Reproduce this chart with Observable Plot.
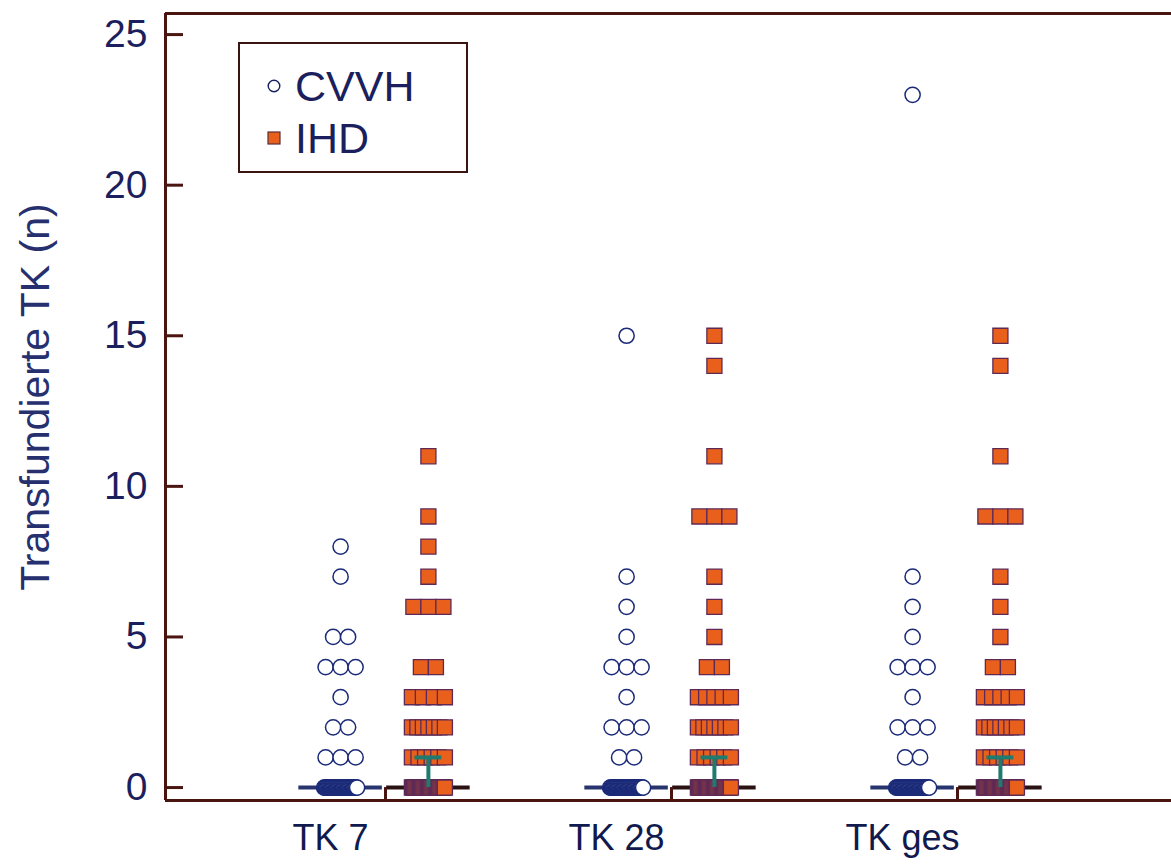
<!DOCTYPE html>
<html><head><meta charset="utf-8">
<script src="https://cdn.jsdelivr.net/npm/d3@7"></script>
<script src="https://cdn.jsdelivr.net/npm/@observablehq/plot@0.6"></script>
<style>
html,body{margin:0;padding:0;background:#fff;overflow:hidden}
#wrap{position:relative;width:1171px;height:868px;font-family:"Liberation Sans",Arial,sans-serif}
#legend{position:absolute;left:238px;top:42px;width:226px;height:127px;border:2px solid #3a1410;background:#fff}
.lrow{position:absolute;left:0;height:52px;display:flex;align-items:center}
.lrow svg{margin-left:26px;margin-right:13px}
.lrow span{font-size:43px;color:#1b1f5e;line-height:1}
</style></head><body>
<div id="wrap"><div id="chart"></div>
<div id="legend">
  <div class="lrow" style="top:16px"><svg width="16" height="16"><circle cx="8" cy="8" r="5.8" fill="#fff" stroke="#1b2260" stroke-width="1.4"/></svg><span>CVVH</span></div>
  <div class="lrow" style="top:68px"><svg width="16" height="16"><rect x="2" y="2" width="12" height="12" fill="#e8601c" stroke="#5a2d3a" stroke-width="1.2"/></svg><span>IHD</span></div>
</div>
</div>
<script>
// ---- data (value, count) ----
const categories = ["TK 7", "TK 28", "TK ges"];
const groups = ["CVVH", "IHD"];
const tk7CVVH  = [[0,40],[1,3],[2,2],[3,1],[4,3],[5,2],[7,1],[8,1]];
const tk7IHD   = [[0,30],[1,6],[2,7],[3,4],[4,2],[6,3],[7,1],[8,1],[9,1],[11,1]];
const tk28CVVH = [[0,40],[1,2],[2,3],[3,1],[4,3],[5,1],[6,1],[7,1],[15,1]];
const tk28IHD  = [[0,30],[1,6],[2,7],[3,5],[4,2],[5,1],[6,1],[7,1],[9,3],[11,1],[14,1],[15,1]];
const tkgesCVVH= [[0,40],[1,2],[2,3],[3,1],[4,3],[5,1],[6,1],[7,1],[23,1]];
const tkgesIHD = [[0,30],[1,6],[2,7],[3,5],[4,2],[5,1],[6,1],[7,1],[9,3],[11,1],[14,1],[15,1]];
const medians = {CVVH: [0,0,0], IHD: [0,0,0]};
const ihdErrTop = [1,1,1];
const yTicks = [0,5,10,15,20,25];
const yTitle = "Transfundierte TK (n)";

// ---- layout helpers ----
const pxPerUnit = 286;
const xDomain = [1 - 220/pxPerUnit, 1 + 786/pxPerUnit];
const yDomain = [-0.43, 25.7];
const groupOffset = {CVVH: -0.157, IHD: 0.150};
const series = [
  [0,"CVVH",tk7CVVH],[0,"IHD",tk7IHD],
  [1,"CVVH",tk28CVVH],[1,"IHD",tk28IHD],
  [2,"CVVH",tkgesCVVH],[2,"IHD",tkgesIHD]
];
const points = [];
for (const [ci, g, rows] of series) {
  for (const [v, n] of rows) {
    const sp = n > 1 ? Math.min(15, 33/(n-1)) / pxPerUnit : 0;
    for (let j = 0; j < n; j++) {
      points.push({category: categories[ci], group: g, value: v,
        x: ci + 1 + groupOffset[g] + (j - (n-1)/2) * sp});
    }
  }
}
const circles = points.filter(d => d.group === "CVVH");
const squares = points.filter(d => d.group === "IHD");
const medRows = [];
for (const g of groups) medians[g].forEach((m, i) => medRows.push({group: g, i, m,
  x1: i + 1 + groupOffset[g] - 0.146, x2: i + 1 + groupOffset[g] + 0.146}));
const errRows = ihdErrTop.map((t, i) => ({i, t, x: i + 1 + groupOffset.IHD}));
const catRows = categories.map((c, i) => ({c, x: i + 1}));

const frameColor = "#4a1510";
const plot = Plot.plot({
  width: 1171, height: 868,
  marginLeft: 165, marginRight: 0, marginTop: 13, marginBottom: 68,
  style: {fontFamily: "Liberation Sans, Arial, sans-serif", background: "#fff"},
  x: {domain: xDomain, axis: null},
  y: {domain: yDomain, axis: null},
  marks: [
    // medians (whisker-like lines)
    Plot.ruleY(medRows.filter(d => d.group === "CVVH"), {y: "m", x1: "x1", x2: "x2", stroke: "#28346e", strokeWidth: 4}),
    Plot.ruleY(medRows.filter(d => d.group === "IHD"), {y: "m", x1: "x1", x2: "x2", stroke: "#2a1212", strokeWidth: 4}),
    // dots
    Plot.dot(circles, {x: "x", y: "value", r: 7.6, fill: "#fff", stroke: "#1b2a78", strokeWidth: 1.5}),
    Plot.dot(squares, {x: "x", y: "value", symbol: "square", r: 8.5, fill: "#e8601c", stroke: "#5e2a55", strokeWidth: 1.3}),
    // IHD error bar
    Plot.ruleX(errRows, {x: "x", y1: 0, y2: "t", stroke: "#1f7a70", strokeWidth: 4}),
    Plot.ruleY(errRows, {y: "t", x1: d => d.x - 0.047, x2: d => d.x + 0.047, stroke: "#1f7a70", strokeWidth: 4}),
    // category ticks
    Plot.ruleX(catRows, {x: "x", y1: yDomain[0], y2: 0, stroke: frameColor, strokeWidth: 3}),
    // frame: left, top, bottom
    Plot.ruleX([xDomain[0]], {stroke: frameColor, strokeWidth: 3}),
    Plot.ruleY([yDomain[1]], {stroke: frameColor, strokeWidth: 3}),
    Plot.ruleY([yDomain[0]], {stroke: frameColor, strokeWidth: 3}),
    // y ticks (inward)
    Plot.ruleY(yTicks, {x1: xDomain[0], x2: xDomain[0] + 18/pxPerUnit, stroke: frameColor, strokeWidth: 3}),
    Plot.axisY({ticks: yTicks, tickSize: 0, tickPadding: 18, fontSize: 39, color: "#1b1f5e", label: null}),
    Plot.text([yTitle], {frameAnchor: "left", textAnchor: "middle", rotate: -90, dx: -130, dy: -10, fontSize: 41, fill: "#26306e"}),
    // category labels
    Plot.text(catRows, {x: d => d.x - 55/pxPerUnit, y: yDomain[0], text: "c", dy: 38, fontSize: 36, fill: "#111a4e"})
  ]
});
document.getElementById("chart").appendChild(plot);
</script>
</body></html>
